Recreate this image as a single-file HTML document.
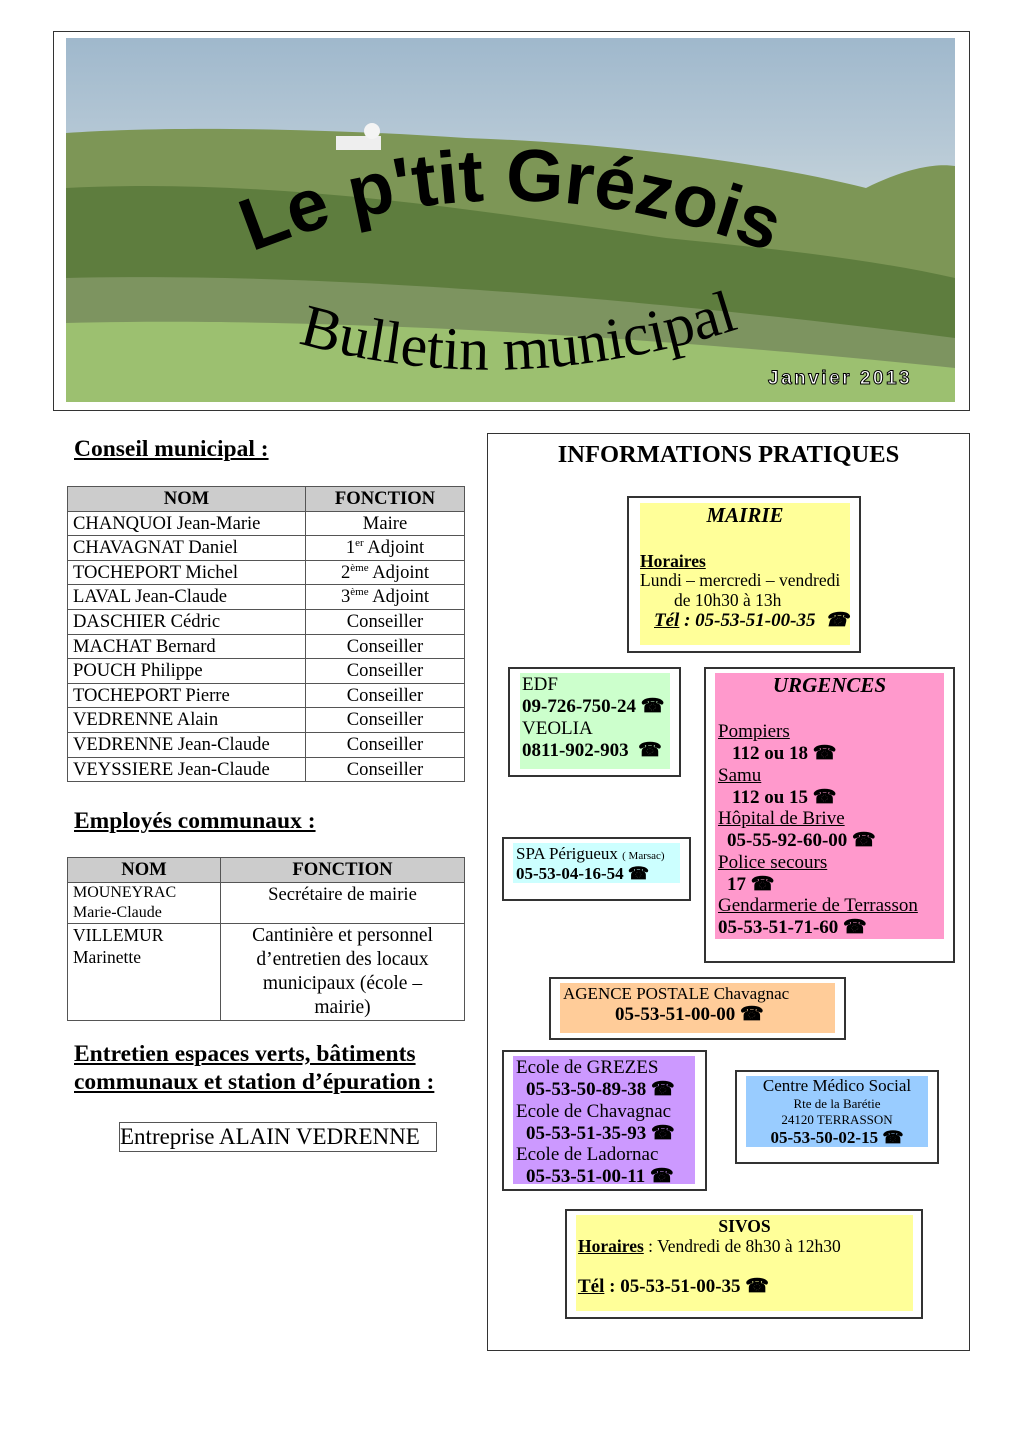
<!DOCTYPE html>
<html><head><meta charset="utf-8">
<style>
*{margin:0;padding:0;box-sizing:border-box}
body{width:1026px;height:1451px;position:relative;background:#fff;font-family:"Liberation Serif",serif;color:#000;overflow:hidden}
.a{position:absolute}
.t{position:absolute;white-space:nowrap;font-size:19px;line-height:22px}
.b{font-weight:bold}
.u{text-decoration:underline}
.bx{position:absolute;border:2px solid #333}
.f{position:absolute}
table{position:absolute;border-collapse:collapse;font-size:18.6px}
td{border:1px solid #555;padding:0 5px;line-height:23px;height:24.6px;vertical-align:top}
sup{font-size:11px;line-height:0;vertical-align:7px}
.c{text-align:center}
.h{background:#ccc;font-weight:bold;text-align:center}
</style></head><body>

<!-- header -->
<div class="bx" style="left:53px;top:31px;width:917px;height:380px;border-width:1px"></div>
<div class="a" style="left:66px;top:38px;width:889px;height:364px;overflow:hidden;background:linear-gradient(#9fb8cc 0%,#b7c9d6 30%,#c5d3da 45%)">
 <svg width="889" height="364" style="position:absolute;left:0;top:0">
  <path d="M0,95 C100,88 250,90 400,100 C550,105 700,125 800,150 C840,130 870,125 889,128 L889,364 L0,364Z" fill="#7d9656"/>
  <path d="M0,150 C200,140 400,170 600,200 C700,210 800,220 889,240 L889,364 L0,364Z" fill="#5e7d3e"/>
  <path d="M0,240 C200,235 500,250 889,300 L889,364 L0,364Z" fill="#7d9460"/>
  <path d="M0,285 C200,280 500,290 889,330 L889,364 L0,364Z" fill="#9cc070"/>
  <rect x="270" y="98" width="45" height="14" fill="#eee"/>
  <circle cx="306" cy="93" r="8" fill="#f4f4f4"/>
  <defs><path id="arc1" d="M160,225 Q440,100 730,225"/><path id="arc2" d="M215,300 Q440,370 690,285"/></defs>
  <text font-family="Liberation Sans,sans-serif" font-weight="bold" font-size="74" fill="#000"><textPath href="#arc1" startOffset="50%" text-anchor="middle">Le p'tit Grézois</textPath></text>
  <text font-family="Liberation Serif,serif" font-size="60" fill="#000"><textPath href="#arc2" startOffset="50%" text-anchor="middle">Bulletin municipal</textPath></text>
  <text x="702" y="346" font-family="Liberation Sans,sans-serif" font-weight="bold" font-size="19" fill="#fff" stroke="#000" stroke-width="1" letter-spacing="2.5">Janvier 2013</text>
 </svg>
</div>

<!-- left column -->
<div class="t b u" style="left:74px;top:435px;font-size:23.5px;line-height:28px">Conseil municipal :</div>
<table style="left:67px;top:486px;width:398px">
<tr><td class="h" style="width:238px">NOM</td><td class="h">FONCTION</td></tr>
<tr><td>CHANQUOI Jean-Marie</td><td class="c">Maire</td></tr>
<tr><td>CHAVAGNAT Daniel</td><td class="c">1<sup>er</sup> Adjoint</td></tr>
<tr><td>TOCHEPORT Michel</td><td class="c">2<sup>ème</sup> Adjoint</td></tr>
<tr><td>LAVAL Jean-Claude</td><td class="c">3<sup>ème</sup> Adjoint</td></tr>
<tr><td>DASCHIER Cédric</td><td class="c">Conseiller</td></tr>
<tr><td>MACHAT Bernard</td><td class="c">Conseiller</td></tr>
<tr><td>POUCH Philippe</td><td class="c">Conseiller</td></tr>
<tr><td>TOCHEPORT Pierre</td><td class="c">Conseiller</td></tr>
<tr><td>VEDRENNE Alain</td><td class="c">Conseiller</td></tr>
<tr><td>VEDRENNE Jean-Claude</td><td class="c">Conseiller</td></tr>
<tr><td>VEYSSIERE Jean-Claude</td><td class="c">Conseiller</td></tr>
</table>

<div class="t b u" style="left:74px;top:807px;font-size:23.5px;line-height:28px">Employés communaux :</div>
<table style="left:67px;top:857px;width:398px">
<tr><td class="h" style="width:153px;height:25px">NOM</td><td class="h">FONCTION</td></tr>
<tr><td style="height:40px;font-size:16px;line-height:20px">MOUNEYRAC<br>Marie-Claude</td><td class="c">Secrétaire de mairie</td></tr>
<tr><td style="height:96px;font-size:17.5px;line-height:22px">VILLEMUR<br>Marinette</td><td class="c" style="line-height:24px;font-size:19.5px;padding:0 24px">Cantinière et personnel d’entretien des locaux municipaux (école – mairie)</td></tr>
</table>

<div class="t b u" style="left:74px;top:1040px;font-size:23.5px;line-height:28px">Entretien espaces verts, bâtiments<br>communaux et station d’épuration :</div>
<div class="a" style="left:119px;top:1122px;width:318px;height:30px;border:1px solid #555;font-size:23px;line-height:28px;padding-left:0;white-space:nowrap">Entreprise ALAIN VEDRENNE</div>

<!-- right column -->
<div class="a" style="left:487px;top:433px;width:483px;height:918px;border:1px solid #333"></div>
<div class="t b" style="left:487px;top:441px;width:483px;text-align:center;font-size:24.5px;line-height:28px">INFORMATIONS PRATIQUES</div>

<!-- Mairie -->
<div class="bx" style="left:627px;top:496px;width:234px;height:157px"></div>
<div class="f" style="left:640px;top:503px;width:210px;height:142px;background:#ffff99"></div>
<div class="t b" style="left:640px;top:504px;width:210px;text-align:center;font-style:italic;font-size:21px">MAIRIE</div>
<div class="t b u" style="left:640px;top:551px;font-size:17.5px;line-height:20px">Horaires</div>
<div class="t" style="left:640px;top:570px;font-size:17.5px;line-height:20px">Lundi – mercredi – vendredi</div>
<div class="t" style="left:674px;top:590px;font-size:17.5px;line-height:20px">de 10h30 à 13h</div>
<div class="t b" style="left:654px;top:610px;font-style:italic;font-size:19px"><span class="u">Tél</span> : 05-53-51-00-35 &nbsp;☎</div>

<!-- EDF -->
<div class="bx" style="left:508px;top:667px;width:173px;height:110px"></div>
<div class="f" style="left:520px;top:673px;width:150px;height:96px;background:#ccffcc"></div>
<div class="t" style="left:522px;top:674px">EDF</div>
<div class="t b" style="left:522px;top:696px">09-726-750-24 ☎</div>
<div class="t" style="left:522px;top:718px">VEOLIA</div>
<div class="t b" style="left:522px;top:740px">0811-902-903 &nbsp;☎</div>

<!-- Urgences -->
<div class="bx" style="left:704px;top:667px;width:251px;height:296px"></div>
<div class="f" style="left:715px;top:673px;width:229px;height:266px;background:#ff99cc"></div>
<div class="t b" style="left:715px;top:674px;width:229px;text-align:center;font-style:italic;font-size:21px">URGENCES</div>
<div class="t u" style="left:718px;top:721px">Pompiers</div>
<div class="t b" style="left:732px;top:743px">112 ou 18 ☎</div>
<div class="t u" style="left:718px;top:765px">Samu</div>
<div class="t b" style="left:732px;top:787px">112 ou 15 ☎</div>
<div class="t u" style="left:718px;top:808px">Hôpital de Brive</div>
<div class="t b" style="left:727px;top:830px">05-55-92-60-00 ☎</div>
<div class="t u" style="left:718px;top:852px">Police secours</div>
<div class="t b" style="left:727px;top:874px">17 ☎</div>
<div class="t u" style="left:718px;top:895px">Gendarmerie de Terrasson</div>
<div class="t b" style="left:718px;top:917px">05-53-51-71-60 ☎</div>

<!-- SPA -->
<div class="bx" style="left:502px;top:837px;width:189px;height:64px"></div>
<div class="f" style="left:513px;top:843px;width:167px;height:40px;background:#ccffff"></div>
<div class="t" style="left:516px;top:844px;font-size:17px;line-height:20px">SPA Périgueux <span style="font-size:11px">( Marsac)</span></div>
<div class="t b" style="left:516px;top:864px;font-size:17px;line-height:20px">05-53-04-16-54 ☎</div>

<!-- Agence -->
<div class="bx" style="left:549px;top:977px;width:297px;height:63px"></div>
<div class="f" style="left:560px;top:983px;width:275px;height:50px;background:#ffcc99"></div>
<div class="t" style="left:563px;top:984px;font-size:17px;line-height:20px">AGENCE POSTALE Chavagnac</div>
<div class="t b" style="left:615px;top:1004px">05-53-51-00-00 ☎</div>

<!-- Ecoles -->
<div class="bx" style="left:502px;top:1050px;width:205px;height:141px"></div>
<div class="f" style="left:513px;top:1056px;width:182px;height:128px;background:#cc99ff"></div>
<div class="t" style="left:516px;top:1057px">Ecole de GREZES</div>
<div class="t b" style="left:526px;top:1079px">05-53-50-89-38 ☎</div>
<div class="t" style="left:516px;top:1101px">Ecole de Chavagnac</div>
<div class="t b" style="left:526px;top:1123px">05-53-51-35-93 ☎</div>
<div class="t" style="left:516px;top:1144px">Ecole de Ladornac</div>
<div class="t b" style="left:526px;top:1166px">05-53-51-00-11 ☎</div>

<!-- Centre -->
<div class="bx" style="left:735px;top:1070px;width:204px;height:94px"></div>
<div class="f" style="left:746px;top:1076px;width:182px;height:71px;background:#99ccff"></div>
<div class="t" style="left:746px;top:1076px;width:182px;text-align:center;font-size:17px;line-height:20px">Centre Médico Social</div>
<div class="t" style="left:746px;top:1096px;width:182px;text-align:center;font-size:13px;line-height:16px">Rte de la Barétie</div>
<div class="t" style="left:746px;top:1112px;width:182px;text-align:center;font-size:13px;line-height:16px">24120 TERRASSON</div>
<div class="t b" style="left:746px;top:1128px;width:182px;text-align:center;font-size:17px;line-height:20px">05-53-50-02-15 ☎</div>

<!-- SIVOS -->
<div class="bx" style="left:565px;top:1209px;width:358px;height:110px"></div>
<div class="f" style="left:576px;top:1215px;width:337px;height:96px;background:#ffff99"></div>
<div class="t b" style="left:576px;top:1216px;width:337px;text-align:center;font-size:17.5px;line-height:20px">SIVOS</div>
<div class="t" style="left:578px;top:1236px;font-size:17.5px;line-height:20px"><b class="u">Horaires</b> : Vendredi de 8h30 à 12h30</div>
<div class="t b" style="left:578px;top:1276px"><span class="u">Tél</span> : 05-53-51-00-35 ☎</div>

</body></html>
